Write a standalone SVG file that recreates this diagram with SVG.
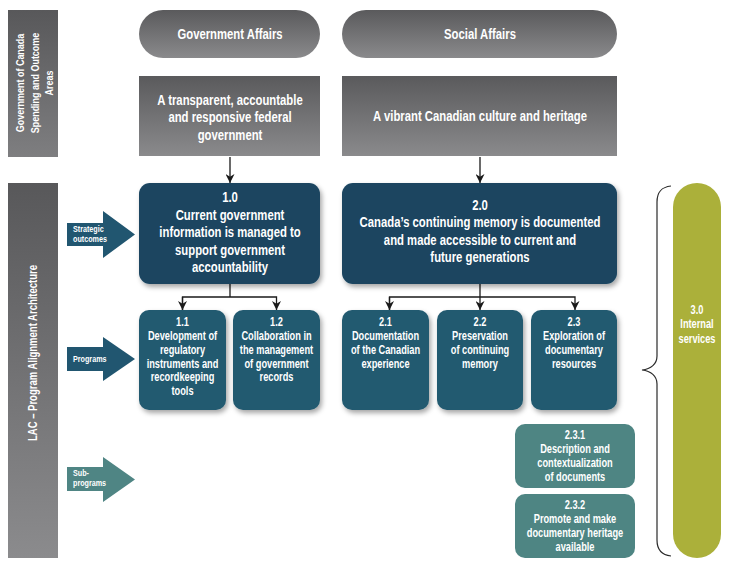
<svg xmlns="http://www.w3.org/2000/svg" width="734" height="583" viewBox="0 0 734 583">
<defs>
<linearGradient id="gGrey" x1="0" y1="0" x2="0" y2="1"><stop offset="0" stop-color="#58585a"/><stop offset="1" stop-color="#7e7e80"/></linearGradient>
<linearGradient id="gGreyLong" x1="0" y1="0" x2="0" y2="1"><stop offset="0" stop-color="#58585a"/><stop offset="1" stop-color="#8b8b8d"/></linearGradient>
<linearGradient id="gPill" x1="0" y1="0" x2="0" y2="1"><stop offset="0" stop-color="#5a5a5c"/><stop offset="1" stop-color="#8a8a8c"/></linearGradient>
<filter id="sh" x="-20%" y="-20%" width="150%" height="150%"><feDropShadow dx="2" dy="3" stdDeviation="2.5" flood-color="#000" flood-opacity="0.35"/></filter>
<marker id="ah" viewBox="0 0 10 10" refX="10" refY="5" markerWidth="9" markerHeight="9" markerUnits="userSpaceOnUse" orient="auto"><path d="M0,0 L10,5 L0,10 L3,5 Z" fill="#1a1a1a"/></marker>
</defs>
<style>
text{font-family:"Liberation Sans",Arial,sans-serif;font-weight:bold;fill:#fff;text-anchor:middle}
.h{font-size:14.5px}
.p{font-size:12px}
.s{font-size:9px;text-anchor:start}
.v{font-size:11.5px}
.navy{fill:#1a4560}
.prog{fill:#245a70}
.sub{fill:#4e8583}
.conn{stroke:#1a1a1a;stroke-width:1.3;fill:none}
</style>

<g id="side-top">
<rect x="8" y="10" width="50" height="147" fill="url(#gGrey)"/>
<g transform="translate(24,83) rotate(-90) scale(0.78,1)"><text class="v" x="0" y="0">Government of Canada</text></g>
<g transform="translate(38.5,83) rotate(-90) scale(0.78,1)"><text class="v" x="0" y="0">Spending and Outcome</text></g>
<g transform="translate(53,83) rotate(-90) scale(0.78,1)"><text class="v" x="0" y="0">Areas</text></g>
</g>

<g id="side-bottom">
<rect x="8" y="183" width="50" height="375" fill="url(#gGreyLong)"/>
<g transform="translate(37,353) rotate(-90) scale(0.76,1)"><text class="v" x="0" y="0" style="font-size:12.5px">LAC – Program Alignment Architecture</text></g>
</g>

<g id="arrow-strategic">
<path d="M67,223 H103 V211 L135,234.5 L103,258 V246 H67 Z" fill="#215670"/>
<g transform="translate(73,0) scale(0.8,1)"><text class="s" x="0" y="232">Strategic</text><text class="s" x="0" y="242">outcomes</text></g>
</g>
<g id="arrow-programs">
<path d="M67,347 H103 V337 L135,359 L103,381 V371 H67 Z" fill="#215670"/>
<g transform="translate(73,0) scale(0.8,1)"><text class="s" x="0" y="362.5">Programs</text></g>
</g>
<g id="arrow-subprograms">
<path d="M67,467 H103 V457 L135,479.5 L103,502 V491 H67 Z" fill="#4f8584"/>
<g transform="translate(73,0) scale(0.8,1)"><text class="s" x="0" y="476">Sub-</text><text class="s" x="0" y="486.5">programs</text></g>
</g>

<g id="gov-affairs">
<rect x="139" y="10" width="181" height="48" rx="24" fill="url(#gPill)"/>
<g transform="translate(230,0) scale(0.78,1)"><text class="h" x="0" y="39">Government Affairs</text></g>
</g>
<g id="social-affairs">
<rect x="342" y="10" width="275" height="48" rx="24" fill="url(#gPill)"/>
<g transform="translate(480,0) scale(0.78,1)"><text class="h" x="0" y="39">Social Affairs</text></g>
</g>

<g id="outcome-gov">
<rect x="139" y="76" width="181" height="80" fill="url(#gPill)"/>
<g transform="translate(230,0) scale(0.78,1)"><text class="h" x="0" y="105">A transparent, accountable</text><text class="h" x="0" y="122.5">and responsive federal</text><text class="h" x="0" y="140">government</text></g>
</g>
<g id="outcome-social">
<rect x="342" y="76" width="275" height="80" fill="url(#gPill)"/>
<g transform="translate(480,0) scale(0.78,1)"><text class="h" x="0" y="121">A vibrant Canadian culture and heritage</text></g>
</g>

<g id="connectors">
<line class="conn" x1="230" y1="157" x2="230" y2="183" marker-end="url(#ah)"/>
<line class="conn" x1="480" y1="157" x2="480" y2="183" marker-end="url(#ah)"/>
<path class="conn" d="M230,284 V297"/>
<path class="conn" d="M182.5,310 V297 H276.5 V310" marker-end="url(#ah)"/>
<line class="conn" x1="182.5" y1="297" x2="182.5" y2="310" marker-end="url(#ah)"/>
<path class="conn" d="M480,284 V310" marker-end="url(#ah)"/>
<path class="conn" d="M389.5,310 V297 H575 V310" marker-end="url(#ah)"/>
<line class="conn" x1="389.5" y1="297" x2="389.5" y2="310" marker-end="url(#ah)"/>
<path d="M671,186 C662,187 657,191 657,202 V356 C657,364 651,369 642,370 C651,371 657,376 657,384 V540 C657,550 662,555 671,556" fill="none" stroke="#2a2a2a" stroke-width="1.2"/>
</g>

<g id="so-1-0">
<rect x="139" y="183" width="181" height="101" rx="11" class="navy" filter="url(#sh)"/>
<g transform="translate(230,0) scale(0.78,1)"><text class="h" x="0" y="202">1.0</text><text class="h" x="0" y="220">Current government</text><text class="h" x="0" y="237.5">information is managed to</text><text class="h" x="0" y="255">support government</text><text class="h" x="0" y="272">accountability</text></g>
</g>
<g id="so-2-0">
<rect x="342" y="183" width="275" height="101" rx="11" class="navy" filter="url(#sh)"/>
<g transform="translate(480,0) scale(0.78,1)"><text class="h" x="0" y="210">2.0</text><text class="h" x="0" y="227">Canada’s continuing memory is documented</text><text class="h" x="0" y="245">and made accessible to current and</text><text class="h" x="0" y="262">future generations</text></g>
</g>

<g id="p-1-1">
<rect x="139" y="310" width="87" height="100" rx="10" class="prog" filter="url(#sh)"/>
<g transform="translate(182.5,0) scale(0.77,1)"><text class="p" x="0" y="326">1.1</text><text class="p" x="0" y="340">Development of</text><text class="p" x="0" y="354.5">regulatory</text><text class="p" x="0" y="368">instruments and</text><text class="p" x="0" y="381.5">recordkeeping</text><text class="p" x="0" y="395.5">tools</text></g>
</g>
<g id="p-1-2">
<rect x="233" y="310" width="87" height="100" rx="10" class="prog" filter="url(#sh)"/>
<g transform="translate(276.5,0) scale(0.77,1)"><text class="p" x="0" y="326">1.2</text><text class="p" x="0" y="340">Collaboration in</text><text class="p" x="0" y="354.5">the management</text><text class="p" x="0" y="368">of government</text><text class="p" x="0" y="381.5">records</text></g>
</g>
<g id="p-2-1">
<rect x="342" y="310" width="87" height="100" rx="10" class="prog" filter="url(#sh)"/>
<g transform="translate(385.5,0) scale(0.77,1)"><text class="p" x="0" y="326">2.1</text><text class="p" x="0" y="340">Documentation</text><text class="p" x="0" y="354.5">of the Canadian</text><text class="p" x="0" y="368">experience</text></g>
</g>
<g id="p-2-2">
<rect x="437" y="310" width="86" height="100" rx="10" class="prog" filter="url(#sh)"/>
<g transform="translate(480,0) scale(0.77,1)"><text class="p" x="0" y="326">2.2</text><text class="p" x="0" y="340">Preservation</text><text class="p" x="0" y="354.5">of continuing</text><text class="p" x="0" y="368">memory</text></g>
</g>
<g id="p-2-3">
<rect x="531" y="310" width="86" height="100" rx="10" class="prog" filter="url(#sh)"/>
<g transform="translate(574,0) scale(0.77,1)"><text class="p" x="0" y="326">2.3</text><text class="p" x="0" y="340">Exploration of</text><text class="p" x="0" y="354.5">documentary</text><text class="p" x="0" y="368">resources</text></g>
</g>

<g id="sp-2-3-1">
<rect x="515" y="424" width="120" height="64" rx="10" class="sub"/>
<g transform="translate(575,0) scale(0.77,1)"><text class="p" x="0" y="439">2.3.1</text><text class="p" x="0" y="453">Description and</text><text class="p" x="0" y="467">contextualization</text><text class="p" x="0" y="481">of documents</text></g>
</g>
<g id="sp-2-3-2">
<rect x="515" y="494" width="120" height="64" rx="10" class="sub"/>
<g transform="translate(575,0) scale(0.77,1)"><text class="p" x="0" y="509">2.3.2</text><text class="p" x="0" y="523">Promote and make</text><text class="p" x="0" y="537">documentary heritage</text><text class="p" x="0" y="551">available</text></g>
</g>

<g id="internal-services">
<rect x="673" y="183" width="48" height="375" rx="24" fill="#abb03a"/>
<g transform="translate(697,0) scale(0.77,1)"><text class="p" x="0" y="314">3.0</text><text class="p" x="0" y="328.5">Internal</text><text class="p" x="0" y="343">services</text></g>
</g>
</svg>
